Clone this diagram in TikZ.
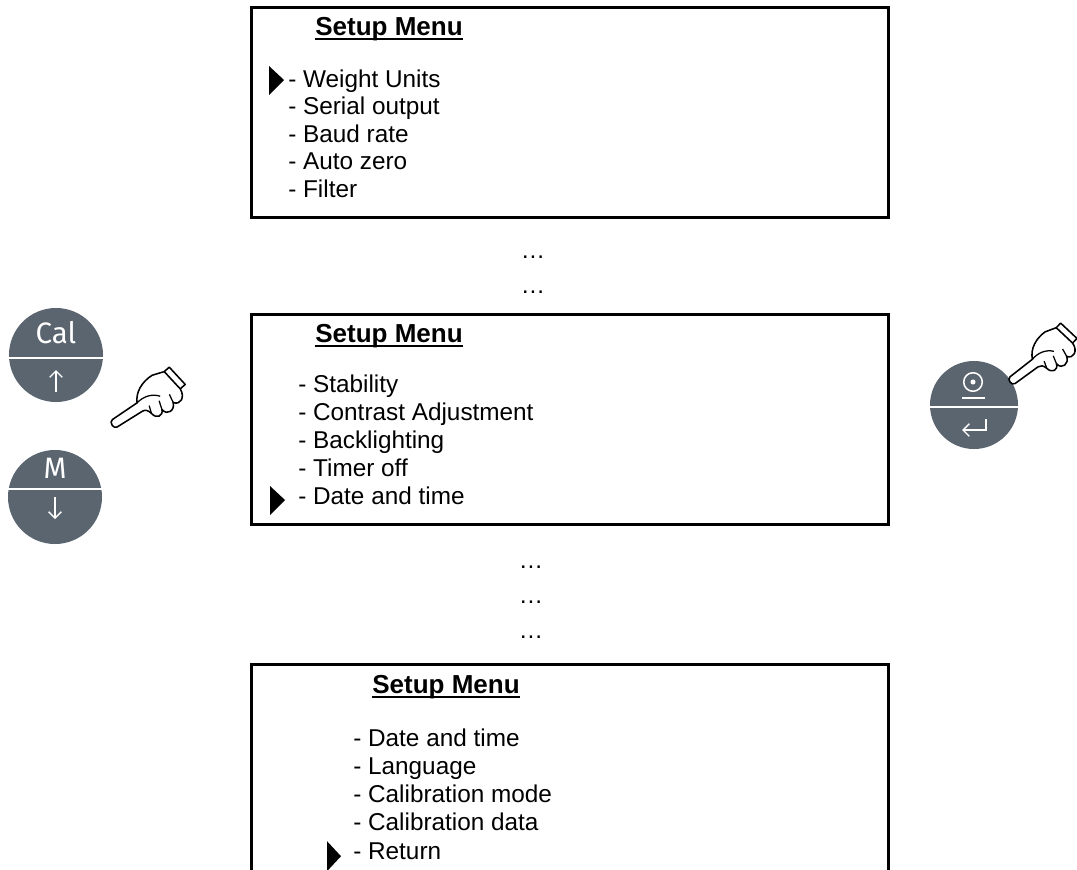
\documentclass[tikz,border=0pt]{standalone}
\usepackage{fontspec}
\setmainfont{Liberation Sans}
\newfontfamily\keyfont{Fira Sans}
\usetikzlibrary{positioning,arrows.meta}

\definecolor{keygray}{RGB}{90,101,112}

\tikzset{
	menubox/.style={draw=black,line width=2.2pt,minimum width=15.93cm,minimum height=5.25cm,anchor=north west,inner sep=0pt},
	heading/.style={font=\fontsize{18.5}{22}\selectfont\bfseries,inner sep=0pt,anchor=base west},
	entry/.style={font=\fontsize{17.3}{20}\selectfont,inner sep=0pt,anchor=base west},
	more/.style={font=\fontsize{17.3}{20}\selectfont,inner sep=0pt,anchor=base},
	key/.style={circle,fill=keygray,minimum size=2.35cm,inner sep=0pt},
	keytext/.style={text=white,font=\keyfont\fontsize{21}{24}\selectfont,inner sep=0pt},
	keyline/.style={white,line width=1.4pt},
	keyarrow/.style={white,line width=1pt,-{Straight Barb[length=4.5pt,width=9pt]}},
	% pointing hand, fingertip at the origin
	hand/.pic={
		\filldraw[fill=white,line width=1.1pt,line join=round]
			(3,-4) -- (30,-5)
			.. controls (34,-14) and (44,-19) .. (55,-19) -- (66,-16)
			-- (70,5)
			.. controls (70,14) and (62,18) .. (58,12)
			.. controls (56,19) and (47,20) .. (46,12)
			.. controls (44,18) and (37,17) .. (36,10)
			.. controls (35,6) and (33,4) .. (30,4)
			-- (3,4) .. controls (-1,4) and (-1,-4) .. (3,-4) -- cycle;
		\draw[line width=1.1pt,line join=round] (66,-16) -- (72,-17) -- (76,4) -- (70,5);
		\draw[line width=0.9pt] (30,-5) .. controls (38,-7) and (46,-5) .. (51,1);
		\draw[line width=0.9pt] (46,12) -- (48,4) (58,12) -- (59,4) (36,10) -- (38,3);
	}
}

\begin{document}
\begin{tikzpicture}[x=0.025cm,y=-0.025cm]
	\clip (0,0) rectangle (1077,869);

	% first page of the menu
	\node[menubox] (box1) at (250,6) {};
	\node[heading,shift={(65,29)}] (t1) at (box1.north west) {Setup Menu};
	\draw[line width=1.8pt] ([yshift=-2.8pt]t1.base west) -- ([yshift=-2.8pt]t1.base east);
	\node[entry,shift={(38,81)}] (a1) at (box1.north west) {- Weight Units};
	\node[entry,shift={(0,27.5)}] (a2) at (a1.base west) {- Serial output};
	\node[entry,shift={(0,27.5)}] (a3) at (a2.base west) {- Baud rate};
	\node[entry,shift={(0,27.5)}] (a4) at (a3.base west) {- Auto zero};
	\node[entry,shift={(0,27.5)}] (a5) at (a4.base west) {- Filter};
	\fill (a1.base west) ++(-19,-21) -- ++(15,14) -- ++(-15,15) -- cycle;

	\node[more] (gap1) at (533,258) {…};
	\node[more] (gap2) at (533,293) {…};

	% second page
	\node[menubox] (box2) at (250,313) {};
	\node[heading,shift={(65,29)}] (t2) at (box2.north west) {Setup Menu};
	\draw[line width=1.8pt] ([yshift=-2.8pt]t2.base west) -- ([yshift=-2.8pt]t2.base east);
	\node[entry,shift={(48,79)}] (b1) at (box2.north west) {- Stability};
	\node[entry,shift={(0,28)}] (b2) at (b1.base west) {- Contrast Adjustment};
	\node[entry,shift={(0,28)}] (b3) at (b2.base west) {- Backlighting};
	\node[entry,shift={(0,28)}] (b4) at (b3.base west) {- Timer off};
	\node[entry,shift={(0,28)}] (b5) at (b4.base west) {- Date and time};
	\fill (b5.base west) ++(-28,-18) -- ++(15,14) -- ++(-15,15) -- cycle;

	\node[more] (gap3) at (531,568) {…};
	\node[more] (gap4) at (531,603) {…};
	\node[more] (gap5) at (531,638) {…};

	% last page, runs off the bottom
	\node[menubox,minimum height=6.5cm] (box3) at (250,663) {};
	\node[heading,shift={(122,30)}] (t3) at (box3.north west) {Setup Menu};
	\draw[line width=1.8pt] ([yshift=-2.8pt]t3.base west) -- ([yshift=-2.8pt]t3.base east);
	\node[entry,shift={(103,83)}] (c1) at (box3.north west) {- Date and time};
	\node[entry,shift={(0,28.3)}] (c2) at (c1.base west) {- Language};
	\node[entry,shift={(0,28.3)}] (c3) at (c2.base west) {- Calibration mode};
	\node[entry,shift={(0,28.3)}] (c4) at (c3.base west) {- Calibration data};
	\node[entry,shift={(0,28.3)}] (c5) at (c4.base west) {- Return};
	\fill (c5.base west) ++(-26,-18) -- ++(14,15) -- ++(-14,15) -- cycle;

	% keys on the left
	\node[key] (cal) at (56,355) {};
	\draw[keyline] ([yshift=-2pt]cal.west) -- ([yshift=-2pt]cal.east);
	\node[keytext,shift={(0,-22)}] (caltxt) at (cal.center) {Cal};
	\coordinate[shift={(0,37)}] (upfoot) at (cal.center);
	\coordinate[shift={(0,15)}] (uphead) at (cal.center);
	\draw[keyarrow] (upfoot) -- (uphead);

	\node[key] (mkey) at (55,497) {};
	\draw[keyline] ([yshift=5.7pt]mkey.west) -- ([yshift=5.7pt]mkey.east);
	\node[keytext,shift={(0,-29)}] (mtxt) at (mkey.center) {M};
	\coordinate[shift={(0,0)}] (downfoot) at (mkey.center);
	\coordinate[shift={(0,22)}] (downhead) at (mkey.center);
	\draw[keyarrow] (downfoot) -- (downhead);

	\pic[rotate=32,scale=1.1] (lefthand) at (112,425) {hand};

	% key on the right
	\node[key,minimum size=2.2cm] (enter) at (974,405) {};
	\draw[keyline] ([yshift=-1.4pt]enter.west) -- ([yshift=-1.4pt]enter.east);
	\coordinate[shift={(-1,-23)}] (ring) at (enter.center);
	\draw[white,line width=1.1pt] (ring) circle (6.6pt);
	\fill[white] (ring) circle (1.8pt);
	\coordinate[shift={(-12,-7)}] (barl) at (enter.center);
	\coordinate[shift={(11,-7)}] (barr) at (enter.center);
	\draw[keyline] (barl) -- (barr);
	\coordinate[shift={(12,14)}] (retfoot) at (enter.center);
	\coordinate[shift={(12,25)}] (retbend) at (enter.center);
	\coordinate[shift={(-12,25)}] (rethead) at (enter.center);
	\draw[keyarrow] (retfoot) -- (retbend) -- (rethead);

	\pic[rotate=36,scale=1.05] (righthand) at (1010,382) {hand};
\end{tikzpicture}
\end{document}
